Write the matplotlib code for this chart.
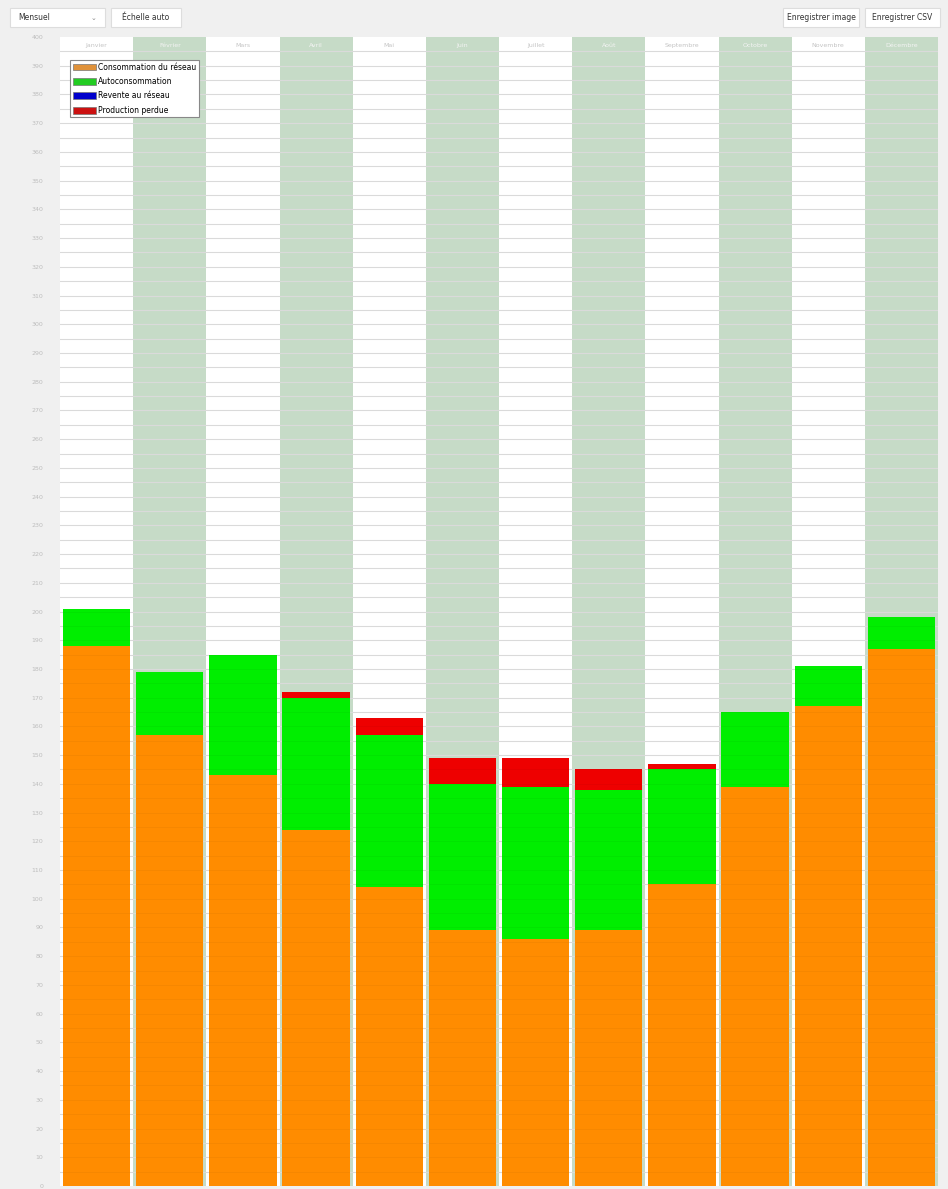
import matplotlib
matplotlib.use("Agg")
import matplotlib.pyplot as plt
from matplotlib.patches import Rectangle, Patch
import numpy as np

# Monthly energy balance (kWh)
months = ["Janvier", "Février", "Mars", "Avril", "Mai", "Juin",
          "Juillet", "Août", "Septembre", "Octobre", "Novembre", "Décembre"]
grid_consumption = [188, 157, 143, 124, 104, 89, 86, 89, 105, 139, 167, 187]
self_consumption = [13, 22, 42, 46, 53, 51, 53, 49, 40, 26, 14, 11]
grid_resale = [0, 0, 0, 0, 0, 0, 0, 0, 0, 0, 0, 0]
lost_production = [0, 0, 0, 2, 6, 9, 10, 7, 2, 0, 0, 0]

series_labels = ["Consommation du réseau", "Autoconsommation",
                 "Revente au réseau", "Production perdue"]
series_colors = ["#ff8c00", "#00ee00", "#0000ee", "#ee0000"]
legend_colors = ["#e0923a", "#22cc22", "#0000cc", "#cc1111"]

y_max = 400
y_label_step = 10
y_grid_step = 5

W, H = 948, 1189
fig = plt.figure(figsize=(W / 100, H / 100), dpi=100)
fig.patch.set_facecolor("#f0f0f0")

ax_left, ax_right, ax_top, ax_bottom = 60, 938, 37, 1186
ax = fig.add_axes([ax_left / W, (H - ax_bottom) / H,
                   (ax_right - ax_left) / W, (ax_bottom - ax_top) / H])
ax.set_facecolor("white")
n = len(months)
x = np.arange(n)
ax.set_xlim(-0.5, n - 0.5)
ax.set_ylim(0, y_max)

# alternating column shading
for i in range(n):
    if i % 2 == 1:
        ax.axvspan(i - 0.5, i + 0.5, color="#c6dbc7", lw=0, zorder=0)

# horizontal grid (faintly visible through the bars as well)
for v in np.arange(y_grid_step, y_max, y_grid_step):
    ax.axhline(v, color="#e2e2e2", lw=0.8, zorder=1)
    ax.axhline(v, color="black", alpha=0.035, lw=0.8, zorder=3)

# stacked bars
bottom = np.zeros(n)
for vals, col in zip([grid_consumption, self_consumption, grid_resale, lost_production],
                     series_colors):
    vals = np.array(vals, dtype=float)
    ax.bar(x, vals, bottom=bottom, width=0.92, color=col, lw=0, zorder=2)
    bottom += vals

# month headers inside each column
for i, m in enumerate(months):
    ax.text(i, y_max - 2, m, ha="center", va="top", fontsize=4.5,
            color="#f4f4f4" if i % 2 else "#c4c4c4", zorder=3)

for s in ax.spines.values():
    s.set_visible(False)
ax.set_xticks([])
ax.set_yticks(np.arange(0, y_max + 1, y_label_step))
ax.set_yticklabels([str(v) for v in range(0, y_max + 1, y_label_step)],
                   fontsize=4.5, color="#bdbdbd")
ax.tick_params(axis="y", length=0, pad=12)

# legend
handles = [Patch(facecolor=c, edgecolor="#777777", lw=0.5) for c in legend_colors]
leg = ax.legend(handles, series_labels, loc="upper left",
                bbox_to_anchor=((70 - ax_left) / (ax_right - ax_left), 1 - (60 - ax_top) / (ax_bottom - ax_top)),
                fontsize=5.5, frameon=True, fancybox=False, borderpad=0.35,
                handlelength=3.0, handleheight=1.0, handletextpad=0.3,
                labelspacing=0.7, borderaxespad=0)
leg.get_frame().set_edgecolor("#888888")
leg.get_frame().set_linewidth(0.8)
leg.get_frame().set_alpha(1)
leg.set_zorder(5)

# toolbar controls
def control(x0, y0, w, h, label):
    fig.add_artist(Rectangle((x0 / W, 1 - (y0 + h) / H), w / W, h / H,
                             transform=fig.transFigure, facecolor="white",
                             edgecolor="#dddddd", lw=0.8))
    fig.text((x0 + w / 2) / W, 1 - (y0 + h / 2) / H, label, ha="center",
             va="center", fontsize=5.5, color="#333333")

fig.add_artist(Rectangle((10 / W, 1 - 27 / H), 95 / W, 19 / H,
                         transform=fig.transFigure, facecolor="white",
                         edgecolor="#dddddd", lw=0.8))
fig.text(18 / W, 1 - 17.5 / H, "Mensuel", ha="left", va="center",
         fontsize=5.5, color="#333333")
fig.text(93 / W, 1 - 17.5 / H, "⌄", ha="center", va="center",
         fontsize=5, color="#888888")
control(111, 8, 70, 19, "Échelle auto")
control(783, 8, 76, 19, "Enregistrer image")
control(865, 8, 75, 19, "Enregistrer CSV")

fig.savefig("out.png", dpi=100, facecolor=fig.get_facecolor())
